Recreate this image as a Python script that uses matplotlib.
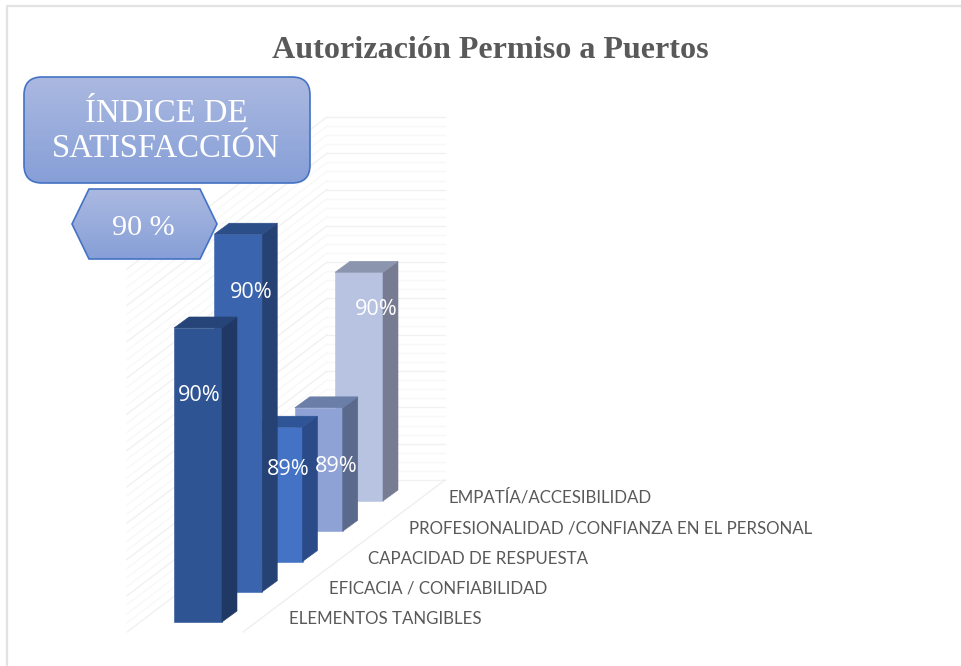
import numpy as np
import matplotlib
matplotlib.use("Agg")
import matplotlib.pyplot as plt
from matplotlib.patches import Polygon, FancyBboxPatch
from matplotlib.colors import LinearSegmentedColormap

# ---- data ----
title = "Autorización Permiso a Puertos"
categories = ["ELEMENTOS TANGIBLES", "EFICACIA / CONFIABILIDAD", "CAPACIDAD DE RESPUESTA",
              "PROFESIONALIDAD /CONFIANZA EN EL PERSONAL", "EMPATÍA/ACCESIBILIDAD"]
values = [89.81, 89.985, 89.37, 89.34, 89.63]
box_title = "ÍNDICE DE\nSATISFACCIÓN"
box_value = "90 %"

front_colors = ["#2f5494", "#3a65ae", "#4472c4", "#8fa2d5", "#b8c2e1"]
top_colors = ["#264478", "#2b4d88", "#2f5597", "#6a7ea8", "#8b95ad"]
side_colors = ["#1f3864", "#264173", "#2a4a88", "#5b6a8c", "#777c92"]

V_MIN, V_MAX, V_STEP = 89.0, 90.0, 0.025
PX_PER_UNIT = 363.0
X0, Y0, DX, DY = 174.0, 622.0, 40.25, 30.25     # first bar, step per category
W, DEPTH_X, DEPTH_Y = 48.0, 15.0, 11.0
label_off = [(1, 68), (13, 58), (10, 42), (17, 59), (17, 37)]
cat_label_x = [289, 329, 368, 409, 449]
cat_label_y = [619, 588, 558.5, 528, 497.5]

fig = plt.figure(figsize=(9.61, 6.66), dpi=100)
ax = fig.add_axes([0, 0, 1, 1])
ax.set_xlim(0, 961)
ax.set_ylim(666, 0)
ax.axis("off")

# frame
ax.plot([7, 7, 961], [666, 6, 6], color="#e2e2e2", lw=1.6, zorder=1, solid_capstyle="butt")

def vy(v, floor):
    return floor - (v - V_MIN) * PX_PER_UNIT

# walls and floor
FL_BACK, FL_FRONT = 480.0, 632.0
WL, WM, WR, WF = 127.0, 327.0, 445.0, 243.0
grid = np.arange(V_MIN, V_MAX + V_STEP / 2, V_STEP)
for k, g in enumerate(grid):
    c = "#f1f1f1" if k % 4 == 0 else "#f8f8f8"
    ax.plot([WM, WR], [vy(g, FL_BACK)] * 2, color=c, lw=1, zorder=2)
    ax.plot([WL, WM], [vy(g, FL_FRONT), vy(g, FL_BACK)], color=c, lw=1, zorder=2)
ax.plot([WF, WR], [FL_FRONT, FL_BACK], color="#efefef", lw=1, zorder=2)

# bars, back to front
for i in range(len(values) - 1, -1, -1):
    x = X0 + DX * i
    yb = Y0 - DY * i
    yt = vy(values[i], yb)
    z = 10 + (len(values) - i)
    kw = dict(closed=True, lw=0.4, zorder=z)
    ax.add_patch(Polygon([(x, yb), (x + W, yb), (x + W, yt), (x, yt)],
                         fc=front_colors[i], ec=front_colors[i], **kw))
    ax.add_patch(Polygon([(x + W, yb), (x + W + DEPTH_X, yb - DEPTH_Y),
                          (x + W + DEPTH_X, yt - DEPTH_Y), (x + W, yt)],
                         fc=side_colors[i], ec=side_colors[i], **kw))
    ax.add_patch(Polygon([(x, yt), (x + W, yt), (x + W + DEPTH_X, yt - DEPTH_Y),
                          (x + DEPTH_X, yt - DEPTH_Y)],
                         fc=top_colors[i], ec=top_colors[i], **kw))

for i, v in enumerate(values):
    x = X0 + DX * i + W / 2 + label_off[i][0]
    y = vy(v, Y0 - DY * i) + label_off[i][1]
    ax.text(x, y, f"{v:.0f}%", color="white", fontsize=15.6, family="Open Sans",
            ha="center", va="center", zorder=30)
    ax.text(cat_label_x[i], cat_label_y[i], categories[i], color="#595959", fontsize=12.2,
            family="Lato", ha="left", va="center", zorder=30)

ax.text(490.5, 50, title, family="Liberation Serif", weight="bold", fontsize=23.1,
        color="#595959", ha="center", va="center", zorder=30)

# gradient shapes
cmap = LinearSegmentedColormap.from_list("g", ["#abb9e1", "#869fd7"])
grad = np.linspace(0, 1, 256).reshape(-1, 1)

def fill(patch, extent, z):
    ax.add_patch(patch)
    im = ax.imshow(grad, cmap=cmap, extent=extent, aspect="auto", zorder=z)
    im.set_clip_path(patch)
    patch.set_zorder(z + 1)
    patch.set_facecolor("none")

box = FancyBboxPatch((24 + 18, 77 + 18), 286 - 36, 106 - 36,
                     boxstyle="round,pad=18,rounding_size=18", ec="#4472c4", lw=1.2)
fill(box, (24, 310, 183, 77), 40)
hexagon = Polygon([(72, 224), (89, 189), (200, 189), (217, 224), (200, 259), (89, 259)],
                  closed=True, ec="#4472c4", lw=1.2)
fill(hexagon, (72, 217, 259, 189), 40)
ax.set_xlim(0, 961)
ax.set_ylim(666, 0)

ax.text(166, 131.5, box_title, family="Liberation Serif", fontsize=23.5, color="white",
        ha="center", va="center", linespacing=1.2, zorder=50)
ax.text(143, 228, box_value, family="Liberation Serif", fontsize=21.7, color="white",
        ha="center", va="center", zorder=50)

fig.savefig("out.png", dpi=100)
